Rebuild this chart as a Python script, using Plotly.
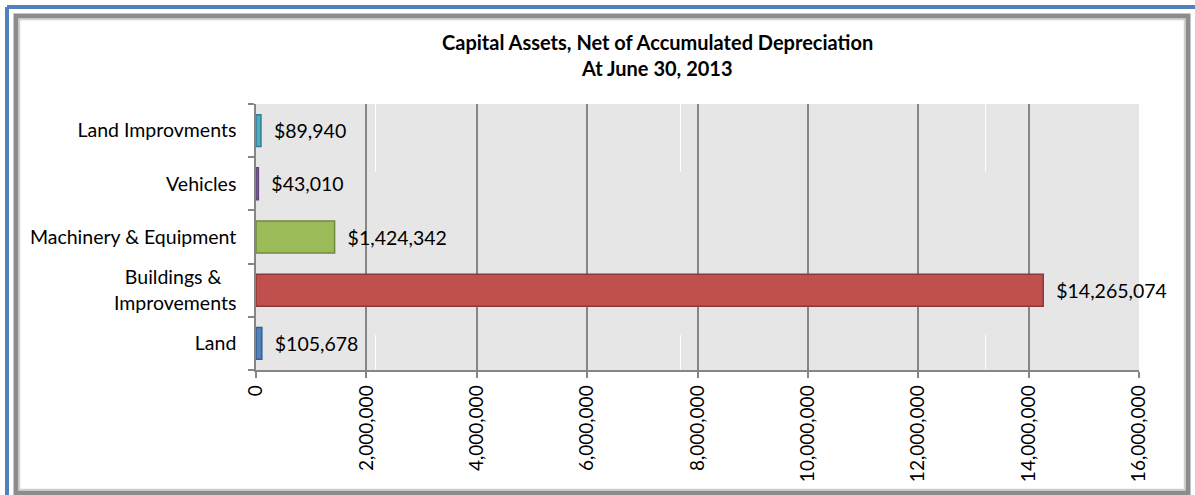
import plotly.graph_objects as go

categories = ["Land", "Buildings &\u00a0\u00a0\u00a0<br>Improvements", "Machinery & Equipment", "Vehicles", "Land Improvments"]
values = [105678, 14265074, 1424342, 43010, 89940]
fill_colors = ["#4F81BD", "#C0504D", "#9BBB59", "#8064A2", "#4BACC6"]
line_colors = ["#385D8A", "#8C3836", "#71893F", "#5C4776", "#357D91"]
tick_vals = [0, 2000000, 4000000, 6000000, 8000000, 10000000, 12000000, 14000000, 16000000]
tick_text = ["0", "2,000,000", "4,000,000", "6,000,000", "8,000,000", "10,000,000", "12,000,000", "14,000,000", "16,000,000"]
title_lines = ["Capital Assets, Net of Accumulated Depreciation", "At June 30, 2013"]

W, H = 1195, 495
L, R, T, B = 256, 1139, 104, 370

def px(x):
    return (x - L) / (R - L)

def py(y):
    return (B - y) / (B - T)

font = "Lato, 'Open Sans', sans-serif"

fig = go.Figure()
fig.add_trace(go.Bar(
    y=categories, x=values, orientation="h",
    marker=dict(color=fill_colors, line=dict(color=line_colors, width=1.5)),
    width=0.6,
    text=["  $" + f"{v:,}" for v in values],
    textposition="outside", cliponaxis=False,
    textfont=dict(family=font, size=19.5, color="#000000"),
    hoverinfo="skip",
))

shapes = []
# faint white seams in the plot background
for sx in (375.5, 680.5, 985.5):
    shapes.append(dict(type="line", xref="paper", yref="paper", x0=px(sx), x1=px(sx), y0=py(104), y1=py(172),
                       line=dict(color="#FFFFFF", width=1), layer="below"))
    shapes.append(dict(type="line", xref="paper", yref="paper", x0=px(sx), x1=px(sx), y0=py(335), y1=py(370),
                       line=dict(color="#FFFFFF", width=1), layer="below"))
shapes.append(dict(type="line", xref="paper", yref="paper", x0=px(7), x1=px(1200), y0=py(7), y1=py(7),
                   line=dict(color="#4F81BD", width=4), layer="above"))
shapes.append(dict(type="line", xref="paper", yref="paper", x0=px(7), x1=px(7), y0=py(7), y1=py(500),
                   line=dict(color="#4F81BD", width=4), layer="above"))
shapes.append(dict(type="rect", xref="paper", yref="paper", x0=px(16), x1=px(1188), y0=py(16), y1=py(493),
                   line=dict(color="#8C8C8C", width=5), layer="above"))
shapes.append(dict(type="rect", xref="paper", yref="paper", x0=px(19.5), x1=px(1184.5), y0=py(19.5), y1=py(489.5),
                   line=dict(color="#D0D0D0", width=1.5), layer="above"))

annotations = [
    dict(text="<b>" + title_lines[0] + "</b>", xref="paper", yref="paper", x=px(657), y=py(42),
         showarrow=False, font=dict(family=font, size=20, color="#000000"), xanchor="center", yanchor="middle"),
    dict(text="<b>" + title_lines[1] + "</b>", xref="paper", yref="paper", x=px(657), y=py(68),
         showarrow=False, font=dict(family=font, size=20, color="#000000"), xanchor="center", yanchor="middle"),
]

fig.update_layout(
    width=W, height=H,
    margin=dict(l=L, r=W - R, t=T, b=H - B),
    paper_bgcolor="#FFFFFF",
    plot_bgcolor="#E6E6E6",
    showlegend=False,
    shapes=shapes,
    annotations=annotations,
    xaxis=dict(
        range=[0, 16000000], tickvals=tick_vals, ticktext=tick_text, tickangle=-90,
        showgrid=True, gridcolor="#868686", gridwidth=1.5,
        showline=True, linecolor="#868686", linewidth=1.5,
        ticks="outside", ticklen=6, tickcolor="#868686", tickwidth=1.5,
        tickfont=dict(family=font, size=19, color="#000000"),
        zeroline=False, fixedrange=True,
    ),
    yaxis=dict(
        categoryorder="array", categoryarray=categories,
        showline=True, linecolor="#868686", linewidth=1.5,
        ticks="outside", ticklen=6, tickcolor="#868686", tickwidth=1.5,
        tickson="boundaries",
        tickfont=dict(family=font, size=19.5, color="#000000"),
        showgrid=False, zeroline=False, fixedrange=True,
        ticklabelstandoff=14,
    ),
)

fig.write_html("out.html", config={"displayModeBar": False},
               post_script="document.body.style.margin='0';document.body.style.overflow='hidden';")
